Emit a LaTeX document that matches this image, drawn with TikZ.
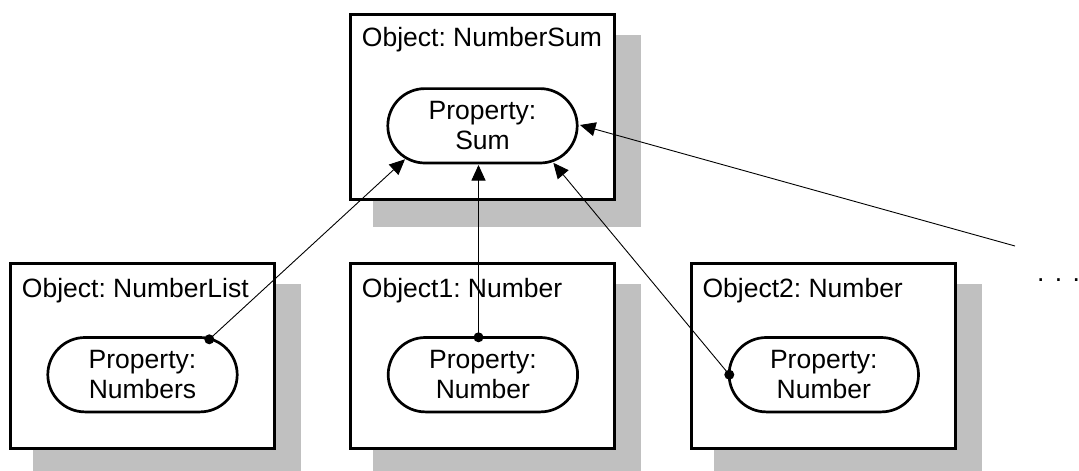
\documentclass[tikz,border=0pt]{standalone}
\usepackage{fontspec}
\setmainfont{Liberation Sans}
\frenchspacing
\usetikzlibrary{shapes.misc,arrows.meta,calc,backgrounds}
\definecolor{shadowgray}{RGB}{192,192,192}
\begin{document}
\begin{tikzpicture}[x=1pt,y=-1pt,
  objbox/.style={draw,line width=3pt,fill=white,minimum width=263.7pt,minimum height=185pt,inner sep=0pt},
  prop/.style={draw,line width=2.7pt,fill=white,rounded rectangle,minimum width=189.4pt,minimum height=74.4pt,inner sep=0pt,align=center,font=\fontsize{26.5}{30.3}\selectfont},
  lbl/.style={anchor=base west,inner sep=0pt,font=\fontsize{26.5}{30.3}\selectfont},
  conn/.style={line width=0.9pt,-{Triangle[length=15.5pt,width=14pt]}},
  dotend/.style={fill=black},
  shadowbox/.style={fill=shadowgray}]
\useasboundingbox (0,0) rectangle (1079,471);

% object boxes
\node[objbox] (sumobj) at (482.7,106.7) {};
\node[objbox] (listobj) at (142.7,356.2) {};
\node[objbox] (oneobj) at (482.7,356.2) {};
\node[objbox] (twoobj) at (823.3,356.2) {};

\begin{scope}[on background layer]
  \foreach \b in {sumobj,listobj,oneobj,twoobj}
    \fill[shadowbox] ($(\b.north west)+(24,22)$) rectangle ($(\b.south east)+(25,26)$);
\end{scope}

% labels
\node[lbl] (sumlbl) at ($(sumobj.north west)+(12.4,34)$) {Object: NumberSum};
\node[lbl] (listlbl) at ($(listobj.north west)+(12.4,35)$) {Object: NumberList};
\node[lbl] (onelbl) at ($(oneobj.north west)+(12.4,35)$) {Object1: Number};
\node[lbl] (twolbl) at ($(twoobj.north west)+(12.4,35)$) {Object2: Number};

% properties
\node[prop] (sum) at (482.5,125.8) {Property:\\Sum};
\node[prop] (nums) at (142.5,374.7) {Property:\\Numbers};
\node[prop] (num1) at (482.9,374.7) {Property:\\Number};
\node[prop] (num2) at (823.8,374.7) {Property:\\Number};

% connectors
\coordinate (s1) at ($(nums.center)+(66.8,-35.4)$);
\coordinate (s2) at ($(num1.center)+(-4.4,-37.4)$);
\coordinate (s3) at ($(num2.center)+(-94.5,0)$);
\coordinate (farend) at (1015,246);

\draw[conn] (s1) -- ($(sum.center)+(-77.5,33.5)$);
\draw[conn] (s2) -- ($(sum.center)+(-4,39.2)$);
\draw[conn] (s3) -- ($(sum.center)+(70.8,37)$);
\draw[conn] (farend) -- ($(sum.center)+(97.5,-0.8)$);

\fill[dotend] (s1) circle (5pt);
\fill[dotend] (s2) circle (5pt);
\fill[dotend] (s3) circle (5pt);

\node[anchor=base west,inner sep=0pt,font=\fontsize{26.5}{30.3}\selectfont] (more) at (1037,281.5) {.\hspace{10.3pt}.\hspace{10.3pt}.};
\end{tikzpicture}
\end{document}
